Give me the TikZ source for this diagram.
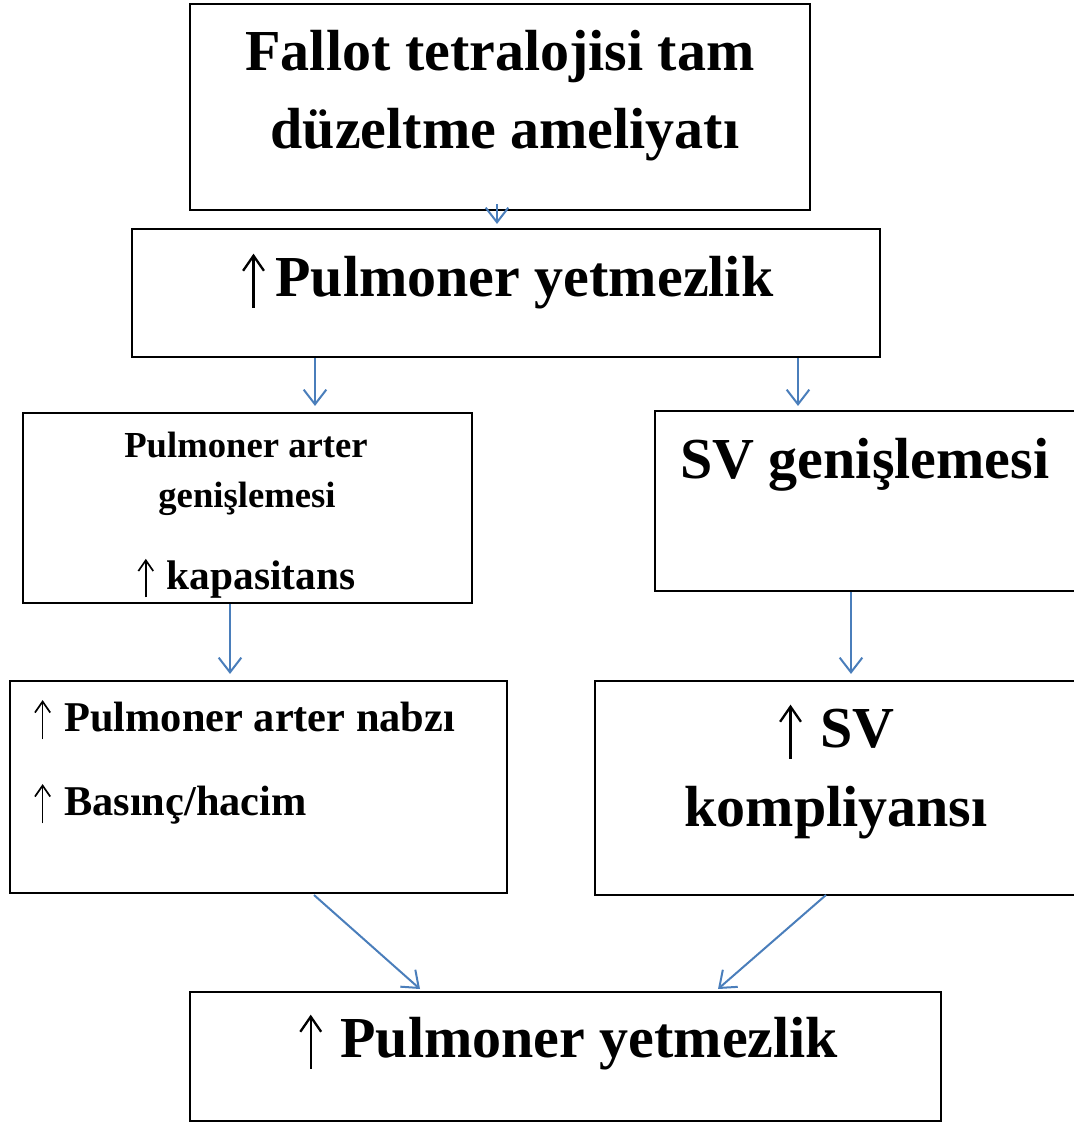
\documentclass[tikz,border=0pt]{standalone}
\usepackage{fontspec}
\setmainfont{Liberation Serif}
\usetikzlibrary{arrows.meta,fit}
\definecolor{arrblue}{HTML}{4A7EBB}
\newcommand{\uarr}{\hspace{0.02em}\tikz[baseline=0pt]{\draw[black, line width=0.04em, -{Straight Barb[length=0.26em,width=0.36em,line width=0.04em]}] (0,-0.2em) -- (0,0.73em);}\hspace{0.06em}}
\tikzset{
  box/.style={draw=black, line width=1.6pt, inner sep=0pt, fill=none},
  lbl/.style={anchor=base, inner sep=0pt, font=\bfseries\fontsize{43.5}{52}\selectfont},
  lblm/.style={anchor=base, inner sep=0pt, font=\bfseries\fontsize{31}{38}\selectfont},
  lblq/.style={anchor=base west, inner sep=0pt, font=\bfseries\fontsize{31.8}{38}\selectfont},
  lbls/.style={anchor=base, inner sep=0pt, font=\bfseries\fontsize{27.5}{33}\selectfont},
  arr/.style={draw=arrblue, line width=1.5pt, -{Straight Barb[length=11pt,width=17pt,line width=1.5pt]}},
}
\begin{document}
\begin{tikzpicture}[x=0.75pt,y=-0.75pt]
\useasboundingbox (0,0) rectangle (1074,1122);
% boxes
\node[box, fit={(190,4) (810,210)}] (b1) {};
\node[box, fit={(132,229) (880,357)}] (b2) {};
\node[box, fit={(23,413) (472,603)}] (b3) {};
\node[box, fit={(655,411) (1090,591)}] (b4) {};
\node[box, fit={(10,681) (507,893)}] (b5) {};
\node[box, fit={(595,681) (1090,895)}] (b6) {};
\node[box, fit={(190,992) (941,1121)}] (b7) {};
% texts
\node[lbl] (t1a) at (500,70) {Fallot tetralojisi tam};
\node[lbl] (t1b) at (505,148) {düzeltme ameliyatı};
\node[lbl] (t2) at (507,296) {\uarr\hspace{0.12em}Pulmoner yetmezlik};
\node[lbls] (t3a) at (246,457) {Pulmoner arter};
\node[lbls] (t3b) at (247,507) {genişlemesi};
\node[lblm] (t3c) at (246,589) {\uarr\ kapasitans};
\node[lbl, anchor=base west] (t4) at (680,478) {SV genişlemesi};
\node[lblq] (t5a) at (33,731) {\uarr\ Pulmoner arter nabzı};
\node[lblq] (t5b) at (33,815) {\uarr\ Basınç/hacim};
\node[lbl] (t6a) at (836,747) {\uarr\ SV};
\node[lbl] (t6b) at (836,826) {kompliyansı};
\node[lbl] (t7) at (568,1057) {\uarr\ Pulmoner yetmezlik};
% connector x positions
\coordinate (x1) at (497,0);
\coordinate (x2) at (315,0);
\coordinate (x3) at (798,0);
\coordinate (x4) at (230,0);
\coordinate (x5) at (851,0);
\coordinate (p6s) at (314,895);
\coordinate (p6e) at (420,989);
\coordinate (p7s) at (826,895);
\coordinate (p7e) at (718,989);
% connectors
\draw[arr, shorten <=-5pt, shorten >=3pt] (b1.south -| x1) -- (b2.north -| x1);
\draw[arr, shorten >=4.5pt] (b2.south -| x2) -- (b3.north -| x2);
\draw[arr, shorten >=3pt] (b2.south -| x3) -- (b4.north -| x3);
\draw[arr, shorten >=4.5pt] (b3.south -| x4) -- (b5.north -| x4);
\draw[arr, shorten >=4.5pt] (b4.south -| x5) -- (b6.north -| x5);
\draw[arr] (p6s) -- (p6e);
\draw[arr] (p7s) -- (p7e);
\end{tikzpicture}
\end{document}
